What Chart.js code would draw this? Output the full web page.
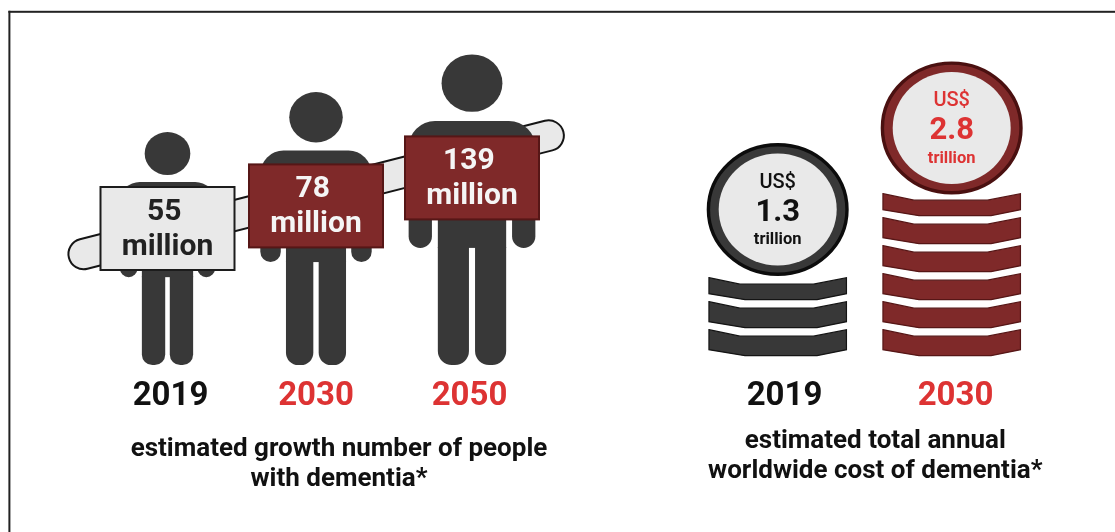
<!DOCTYPE html>
<html>
<head>
<meta charset="utf-8">
<title>Dementia prevalence and cost</title>
<script src="https://cdn.jsdelivr.net/npm/chart.js@4/dist/chart.umd.js"></script>
<style>
  html, body { margin: 0; padding: 0; background: #fff; }
  canvas { display: block; }
</style>
</head>
<body>
<canvas id="chart" width="1115" height="532"></canvas>
<script>
// Data
const years = ['2019', '2030', '2050', '2019', '2030'];
const peopleMillions = [55, 78, 139, null, null];
const costTrillions = [null, null, null, 1.3, 2.8];
const coinSlabs = [3, 6];
const peopleCaption = ['estimated growth number of people', 'with dementia*'];
const costCaption = ['estimated total annual', 'worldwide cost of dementia*'];

// Palette
const INK = '#111111', RED = '#dd3333', DARK = '#383838', OXBLOOD = '#7f2929',
      OXBLOOD_EDGE = '#561616', PALE = '#e9e9e9', FONT = 'Roboto, sans-serif';
const yearColors = [INK, RED, RED, INK, RED];

// Category scale with hand-placed slots, because the pictograms are not evenly spaced.
class SlottedCategoryScale extends Chart.CategoryScale {
  static id = 'slottedCategory';
  static defaults = {};
  getPixelForValue(value) {
    const i = typeof value === 'number' ? value : this.parse(value);
    return this.left + this.options.slots[i];
  }
}
// Linear scale whose value-to-height mapping follows a list of knots: pictogram sizes are ordinal.
class KnotScale extends Chart.LinearScale {
  static id = 'knot';
  static defaults = {};
  getPixelForValue(value) {
    const k = this.options.knots;
    let n = 1;
    while (n < k.length - 1 && value > k[n][0]) n++;
    const [v0, h0] = k[n - 1], [v1, h1] = k[n];
    return this.bottom - (h0 + (h1 - h0) * (value - v0) / (v1 - v0));
  }
}
Chart.register(SlottedCategoryScale, KnotScale);

function roundedRect(ctx, x, y, w, h, r) {
  ctx.beginPath();
  ctx.roundRect(x, y, w, h, r);
  ctx.fill();
}

function ellipse(ctx, cx, cy, rx, ry) {
  ctx.beginPath();
  ctx.ellipse(cx, cy, rx, ry, 0, 0, Math.PI * 2);
}

// Standing figure, all proportions relative to its height H.
function drawPerson(ctx, cx, top, foot) {
  const H = foot - top;
  ctx.fillStyle = DARK;
  ellipse(ctx, cx, top + H * 0.0925, H * 0.098, H * 0.0925);
  ctx.fill();
  const shoulder = top + H * 0.2146, armEnd = foot - H * 0.377;
  const halfSpan = H * 0.204, armW = H * 0.075, torso = H * 0.11, gap = H * 0.0098;
  roundedRect(ctx, cx - halfSpan, shoulder, halfSpan * 2, H * 0.2, [H * 0.085, H * 0.085, 0, 0]);
  roundedRect(ctx, cx - halfSpan, shoulder + H * 0.1, armW, armEnd - shoulder - H * 0.1, [0, 0, armW / 2, armW / 2]);
  roundedRect(ctx, cx + halfSpan - armW, shoulder + H * 0.1, armW, armEnd - shoulder - H * 0.1, [0, 0, armW / 2, armW / 2]);
  ctx.fillRect(cx - torso, shoulder + H * 0.1, torso * 2, armEnd - shoulder - H * 0.1);
  const legW = torso - gap;
  roundedRect(ctx, cx - torso, armEnd - 1, legW, foot - armEnd + 1, [0, 0, legW * 0.45, legW * 0.45]);
  roundedRect(ctx, cx + gap, armEnd - 1, legW, foot - armEnd + 1, [0, 0, legW * 0.45, legW * 0.45]);
}

function drawSign(ctx, cx, foot, rise, value, muted) {
  const w = 134, h = 83, x = cx - w / 2, y = foot - rise;
  ctx.fillStyle = muted ? PALE : OXBLOOD;
  ctx.strokeStyle = muted ? '#1c1c1c' : OXBLOOD_EDGE;
  ctx.lineWidth = 2;
  ctx.fillRect(x, y, w, h);
  ctx.strokeRect(x, y, w, h);
  ctx.fillStyle = muted ? '#222222' : '#f5f5f5';
  ctx.textAlign = 'center';
  ctx.textBaseline = 'alphabetic';
  ctx.font = `700 30px ${FONT}`;
  ctx.fillText(String(value), cx - 3.2, y + 33);
  ctx.fillText('million', cx, y + 67.5);
}

// The banner runs behind all three figures; only the rounded ends and the gaps show.
function drawBanner(ctx, x0, y0, x1, y1) {
  ctx.save();
  ctx.lineCap = 'round';
  ctx.beginPath();
  ctx.moveTo(x0, y0);
  ctx.lineTo(x1, y1);
  ctx.strokeStyle = '#151515';
  ctx.lineWidth = 32.5;
  ctx.stroke();
  ctx.strokeStyle = PALE;
  ctx.lineWidth = 28.5;
  ctx.stroke();
  ctx.restore();
}

function drawCoin(ctx, cx, top, value, muted) {
  const rx = 71, ry = 66.5, cy = top + ry;
  ctx.fillStyle = muted ? DARK : OXBLOOD;
  ctx.strokeStyle = muted ? '#0c0c0c' : '#4a1010';
  ctx.lineWidth = 3.4;
  ellipse(ctx, cx, cy, rx - 1.7, ry - 1.7);
  ctx.fill();
  ctx.stroke();
  ctx.fillStyle = PALE;
  ellipse(ctx, cx, cy, 59, 56);
  ctx.fill();
  ctx.fillStyle = muted ? INK : RED;
  ctx.textAlign = 'center';
  ctx.textBaseline = 'alphabetic';
  ctx.font = `500 20px ${FONT}`;
  ctx.fillText('US$', cx, cy - 21.5);
  ctx.font = `700 31px ${FONT}`;
  ctx.fillText(value.toFixed(1), cx, cy + 11);
  ctx.font = `700 16.5px ${FONT}`;
  ctx.fillText('trillion', cx, cy + 34.7);
}

function drawSlab(ctx, cx, bottom, h, muted) {
  const w = 137.5, x = cx - w / 2, t = bottom - h;
  ctx.beginPath();
  ctx.moveTo(x, t);
  ctx.lineTo(x + w * 0.226, t + 6.5);
  ctx.lineTo(x + w * 0.76, t + 6.5);
  ctx.lineTo(x + w, t);
  ctx.lineTo(x + w, bottom - 6);
  ctx.lineTo(x + w * 0.786, bottom);
  ctx.lineTo(x + w * 0.262, bottom);
  ctx.lineTo(x, bottom - 6);
  ctx.closePath();
  ctx.fillStyle = muted ? DARK : OXBLOOD;
  ctx.strokeStyle = muted ? '#141414' : OXBLOOD_EDGE;
  ctx.lineWidth = 1.2;
  ctx.fill();
  ctx.stroke();
}

const signRise = [178, 200.6, 228.6];
const markNudge = [-3, 0, 2.5, -6.8, -3.8];

// Paints pictograms on top of the transparent bars, using the geometry the bars were given.
const pictograms = {
  id: 'pictograms',
  beforeDraw(chart) {
    const ctx = chart.ctx;
    ctx.save();
    ctx.fillStyle = '#ffffff';
    ctx.fillRect(0, 0, chart.width, chart.height);
    ctx.fillStyle = '#222222';
    ctx.fillRect(8.4, 10.8, chart.width, 2);
    ctx.fillRect(8.4, 10.8, 2, chart.height);
    ctx.restore();
  },
  afterDatasetsDraw(chart) {
    const ctx = chart.ctx;
    const people = chart.getDatasetMeta(0).data;
    const cost = chart.getDatasetMeta(1).data;
    ctx.save();
    const first = people[0], last = people[2];
    drawBanner(ctx, first.x - 86.8, first.base - 111, last.x + 79.1, last.base - 229.4);
    people.forEach((bar, i) => {
      if (peopleMillions[i] !== null) drawPerson(ctx, bar.x + markNudge[i], bar.y, bar.base);
    });
    people.forEach((bar, i) => {
      if (peopleMillions[i] !== null) {
        drawSign(ctx, bar.x + markNudge[i], bar.base, signRise[i], peopleMillions[i], i === 0);
      }
    });
    cost.forEach((bar, i) => {
      if (costTrillions[i] === null) return;
      const cx = bar.x + markNudge[i], muted = i === 3, count = coinSlabs[i - 3];
      for (let s = 0; s < count; s++) {
        const isTop = s === count - 1;
        drawSlab(ctx, cx, bar.base - s * 28, isTop ? 22 : 26, muted);
      }
      drawCoin(ctx, cx, bar.y, costTrillions[i], muted);
    });
    ctx.fillStyle = '#111111';
    ctx.textAlign = 'center';
    ctx.textBaseline = 'alphabetic';
    ctx.font = `700 26px ${FONT}`;
    peopleCaption.forEach((line, i) => ctx.fillText(line, 339, 456 + i * 30));
    costCaption.forEach((line, i) => ctx.fillText(line, 875.3, 448.3 + i * 29.4));
    ctx.restore();
  }
};

new Chart(document.getElementById('chart'), {
  type: 'bar',
  data: {
    labels: years,
    datasets: [
      { label: 'People with dementia (millions)', data: peopleMillions, yAxisID: 'y', grouped: false, barThickness: 2, backgroundColor: 'transparent' },
      { label: 'Annual cost (US$ trillions)', data: costTrillions, yAxisID: 'yCost', grouped: false, barThickness: 2, backgroundColor: 'transparent' }
    ]
  },
  options: {
    responsive: false,
    animation: false,
    layout: { autoPadding: false, padding: { left: 0, right: 0, top: 0, bottom: 112 } },
    plugins: { legend: { display: false }, tooltip: { enabled: false } },
    scales: {
      x: {
        type: 'slottedCategory',
        slots: [170.5, 316, 469.5, 784.5, 955.5],
        grid: { display: false },
        border: { display: false },
        ticks: {
          autoSkip: false,
          maxRotation: 0,
          padding: 3.7,
          color: ctx => yearColors[ctx.index],
          font: { family: FONT, size: 33, weight: '700' }
        }
      },
      y: {
        type: 'knot',
        display: false,
        min: 0,
        max: 150,
        knots: [[0, 0], [55, 233], [78, 273], [139, 310.6]]
      },
      yCost: {
        type: 'knot',
        display: false,
        min: 0,
        max: 3,
        knots: [[0, 9.3], [1.3, 222], [2.8, 303.6]]
      }
    }
  },
  plugins: [pictograms]
});
</script>
</body>
</html>
